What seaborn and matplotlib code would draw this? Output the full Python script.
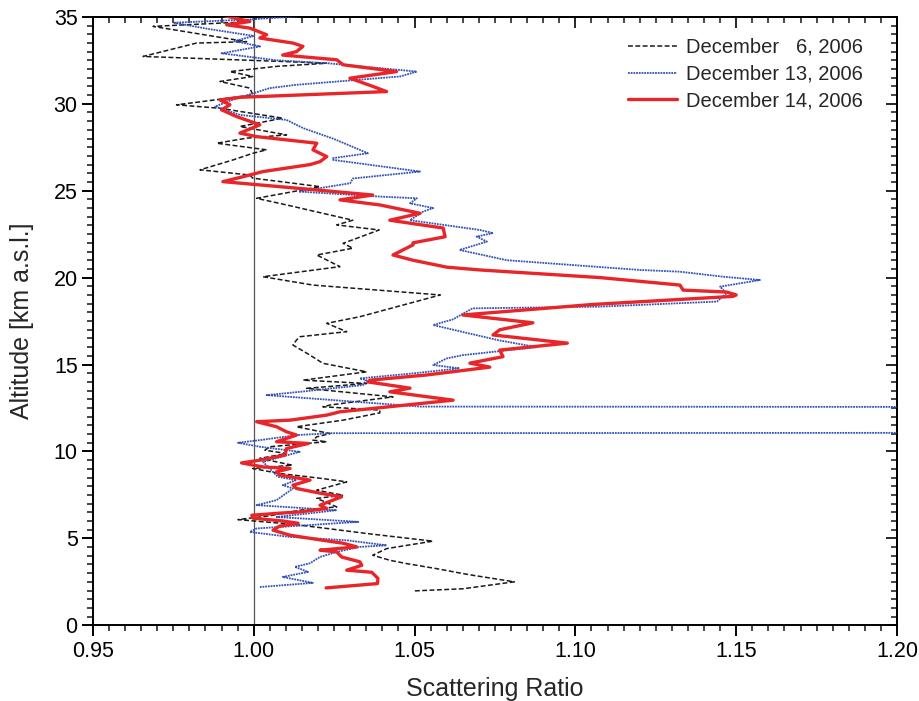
import numpy as np
import pandas as pd
import matplotlib
matplotlib.use("Agg")
import matplotlib.pyplot as plt
from matplotlib.ticker import MultipleLocator
import seaborn as sns

# Lidar scattering-ratio profiles (altitude in km a.s.l., ratio dimensionless)
dec06_alt = [1.98, 2.10, 2.50, 2.88, 3.01, 3.26, 3.55, 3.74, 4.03, 4.41, 4.84, 4.99, 5.28, 5.57,
             5.81, 6.08, 6.30, 6.62, 6.81, 7.30, 7.48, 7.77, 8.25, 8.44, 8.73, 9.02, 9.21, 9.60,
             9.88, 10.07, 10.27, 10.56, 10.65, 10.84, 11.03, 11.42, 11.80, 12.22, 12.38, 12.57,
             12.67, 13.14, 13.63, 13.91, 14.10, 14.58, 15.07, 15.54, 16.12, 16.41, 16.60, 16.89,
             17.37, 17.75, 18.42, 19.00, 19.57, 20.05, 20.63, 21.30, 21.69, 21.97, 22.74, 23.03,
             23.30, 24.18, 24.56, 25.23, 25.43, 25.72, 25.90, 26.20, 26.77, 27.15, 27.35, 27.73,
             28.02, 28.21, 28.69, 29.17, 29.74, 29.94, 30.13, 30.51, 30.90, 31.28, 31.57, 31.85,
             32.15, 32.33, 32.43, 32.72, 33.49, 33.57, 34.45, 34.70, 35.10]
dec06_sr = [1.0501, 1.0650, 1.0810, 1.0680, 1.0640, 1.0568, 1.0475, 1.0423, 1.0370, 1.0413,
            1.0557, 1.0486, 1.0351, 1.0227, 1.0122, 0.9951, 1.0050, 1.0143, 1.0258, 1.0196,
            1.0278, 1.0196, 1.0289, 1.0215, 1.0081, 0.9997, 1.0120, 1.0019, 1.0102, 1.0035,
            1.0050, 1.0227, 1.0184, 1.0196, 1.0237, 1.0133, 1.0278, 1.0392, 1.0392, 1.0215,
            1.0237, 1.0433, 1.0164, 1.0351, 1.0153, 1.0351, 1.0215, 1.0175, 1.0122, 1.0133,
            1.0144, 1.0289, 1.0227, 1.0330, 1.0464, 1.0580, 1.0184, 1.0029, 1.0268, 1.0196,
            1.0308, 1.0278, 1.0390, 1.0258, 1.0308, 1.0102, 1.0009, 1.0206, 1.0122, 0.9997,
            0.9988, 0.9833, 0.9936, 0.9997, 1.0040, 0.9885, 0.9978, 1.0102, 0.9957, 1.0090,
            0.9895, 0.9760, 0.9842, 0.9997, 0.9988, 0.9895, 0.9997, 0.9926, 1.0071, 1.0227,
            1.0092, 0.9656, 0.9822, 0.9978, 0.9687, 0.9966, 1.0050]

dec13_alt = [2.20, 2.44, 2.78, 3.07, 3.36, 3.57, 3.93, 4.22, 4.51, 4.60, 4.89, 5.08, 5.37, 5.57,
             5.95, 6.23, 6.62, 6.91, 7.20, 7.87, 8.06, 8.35, 8.54, 9.40, 9.98, 10.27, 10.50,
             10.65, 10.94, 11.05, 11.08, 12.55, 12.58, 13.24, 13.43, 13.82, 14.10, 14.20, 14.50,
             14.78, 14.97, 15.35, 15.54, 16.00, 16.40, 17.27, 17.60, 18.23, 18.33, 18.62, 19.10,
             19.48, 19.86, 20.05, 20.34, 20.44, 21.00, 21.59, 22.07, 22.36, 22.56, 22.74, 23.14,
             23.30, 23.80, 24.00, 24.27, 24.56, 24.66, 24.95, 25.43, 25.70, 26.10, 26.77, 26.87,
             27.15, 28.00, 28.60, 29.07, 29.36, 29.84, 30.20, 30.90, 31.09, 31.57, 31.85, 32.33,
             32.50, 32.90, 33.30, 33.60, 33.90, 34.30, 34.66, 34.85, 35.10]
dec13_sr = [1.0019, 1.0184, 1.0090, 1.0169, 1.0128, 1.0175, 1.0206, 1.0258, 1.0330, 1.0413,
            1.0289, 1.0113, 0.9988, 1.0009, 1.0325, 1.0071, 1.0258, 1.0009, 1.0071, 1.0122,
            1.0090, 1.0133, 1.0075, 1.0029, 1.0143, 1.0019, 0.9951, 1.0019, 1.0133, 1.0240,
            1.3000, 1.3000, 1.0517, 1.0040, 1.0144, 1.0340, 1.0350, 1.0330, 1.0500, 1.0640,
            1.0558, 1.0600, 1.0650, 1.0880, 1.0760, 1.0558, 1.0620, 1.0680, 1.1077, 1.1440,
            1.1470, 1.1450, 1.1574, 1.1460, 1.1325, 1.1200, 1.0787, 1.0640, 1.0725, 1.0693,
            1.0744, 1.0703, 1.0548, 1.0486, 1.0527, 1.0558, 1.0486, 1.0507, 1.0393, 1.0140,
            1.0300, 1.0308, 1.0517, 1.0247, 1.0246, 1.0355, 1.0246, 1.0153, 1.0102, 0.9957,
            0.9880, 0.9930, 1.0050, 1.0133, 1.0455, 1.0507, 1.0230, 1.0071, 0.9900, 1.0020,
            0.9940, 1.0000, 0.9860, 0.9750, 0.9990, 1.0200]

dec14_alt = [2.15, 2.40, 2.70, 3.05, 3.17, 3.45, 3.65, 3.93, 4.22, 4.32, 4.51, 4.72, 4.89, 5.18,
             5.47, 5.70, 5.87, 6.00, 6.16, 6.33, 6.45, 6.52, 6.72, 6.91, 7.39, 7.60, 7.87, 8.06,
             8.35, 8.64, 8.83, 9.02, 9.11, 9.34, 9.50, 9.79, 10.17, 10.46, 10.56, 10.94, 11.13,
             11.42, 11.71, 11.80, 12.09, 12.28, 12.95, 13.43, 13.64, 14.00, 14.10, 14.40, 14.85,
             15.08, 15.45, 15.83, 16.23, 16.70, 17.00, 17.40, 17.85, 18.45, 18.92, 19.00, 19.17,
             19.28, 19.57, 20.00, 20.44, 20.60, 21.00, 21.30, 21.88, 22.00, 22.35, 22.85, 23.30,
             23.70, 24.18, 24.47, 24.75, 25.23, 25.52, 25.80, 26.10, 26.50, 26.67, 26.96, 27.35,
             27.73, 28.11, 28.31, 28.79, 29.26, 29.65, 29.94, 30.22, 30.37, 30.70, 31.00, 31.47,
             31.85, 32.24, 32.53, 32.80, 33.00, 33.30, 33.49, 33.78, 33.97, 34.35, 34.54, 34.73,
             35.10]
dec14_sr = [1.0225, 1.0385, 1.0386, 1.0367, 1.0289, 1.0336, 1.0330, 1.0273, 1.0258, 1.0206,
            1.0320, 1.0278, 1.0215, 1.0113, 1.0060, 1.0080, 1.0138, 1.0090, 0.9998, 0.9994,
            1.0081, 1.0143, 1.0227, 1.0206, 1.0273, 1.0206, 1.0133, 1.0122, 1.0175, 1.0081,
            1.0071, 1.0113, 1.0029, 0.9962, 1.0020, 1.0097, 1.0102, 1.0170, 1.0071, 1.0133,
            1.0102, 1.0071, 1.0009, 1.0113, 1.0227, 1.0268, 1.0620, 1.0423, 1.0486, 1.0355,
            1.0361, 1.0538, 1.0734, 1.0672, 1.0775, 1.0765, 1.0975, 1.0744, 1.0765, 1.0868,
            1.0650, 1.1050, 1.1490, 1.1500, 1.1470, 1.1335, 1.1325, 1.1077, 1.0703, 1.0600,
            1.0495, 1.0433, 1.0495, 1.0495, 1.0595, 1.0589, 1.0423, 1.0517, 1.0392, 1.0268,
            1.0370, 1.0081, 0.9904, 0.9966, 1.0029, 1.0175, 1.0206, 1.0227, 1.0184, 1.0196,
            1.0009, 0.9957, 1.0019, 0.9947, 0.9900, 0.9926, 0.9895, 0.9957, 1.0413, 1.0370,
            1.0299, 1.0444, 1.0278, 1.0258, 1.0090, 1.0133, 1.0153, 1.0122, 1.0019, 1.0040,
            0.9988, 0.9916, 0.9988, 0.9900]

labels = ["December   6, 2006", "December 13, 2006", "December 14, 2006"]

sns.set_style("ticks")
plt.rcParams["font.family"] = ["Liberation Sans", "DejaVu Sans"]
plt.rcParams["axes.linewidth"] = 1.4

fig = plt.figure(figsize=(9.2, 7.01), dpi=100)
ax = fig.add_axes([0.101, 0.108, 0.874, 0.868])

ax.axvline(1.0, color="#555555", lw=0.9, zorder=1)

series = [
    (dec06_alt, dec06_sr, "#1a1a1a", (0, (3.2, 1.6)), 1.1),
    (dec13_alt, dec13_sr, "#3352b5", (0, (1.0, 0.5)), 1.3),
    (dec14_alt, dec14_sr, "#e8262a", "-", 2.4),
]
for (alt, sr, col, ls, lw), lab in zip(series, labels):
    df = pd.DataFrame({"alt": alt, "sr": sr})
    sns.lineplot(data=df, x="sr", y="alt", orient="y", sort=False, estimator=None,
                 color=col, linestyle=ls, linewidth=lw, label=lab, ax=ax, zorder=3)

ax.set_xlim(0.95, 1.20)
ax.set_ylim(0, 35)
ax.xaxis.set_minor_locator(MultipleLocator(0.005))
ax.yaxis.set_major_locator(MultipleLocator(5))
ax.yaxis.set_minor_locator(MultipleLocator(0.5))
ax.set_xticks(np.arange(0.95, 1.2001, 0.05))
ax.set_xticklabels([f"{v:.2f}" for v in np.arange(0.95, 1.2001, 0.05)])

ax.tick_params(which="major", direction="out", length=8, width=1.4, labelsize=15.5,
               colors="black", pad=3)
ax.tick_params(which="minor", direction="out", length=4.5, width=1.2)
ax.tick_params(top=False, right=False, which="both")

for sp in ax.spines.values():
    sp.set_visible(True)
    sp.set_color("black")

# inward ticks on the top and right frame
top = ax.secondary_xaxis("top")
top.xaxis.set_major_locator(MultipleLocator(0.05))
top.xaxis.set_minor_locator(MultipleLocator(0.005))
top.tick_params(which="major", direction="in", length=8, width=1.4, labeltop=False)
top.tick_params(which="minor", direction="in", length=4.5, width=1.2)
right = ax.secondary_yaxis("right")
right.yaxis.set_major_locator(MultipleLocator(5))
right.yaxis.set_minor_locator(MultipleLocator(0.5))
right.tick_params(which="major", direction="in", length=8, width=1.4, labelright=False)
right.tick_params(which="minor", direction="in", length=4.5, width=1.2)

ax.set_xlabel("Scattering Ratio", fontsize=18, va="center")
ax.set_ylabel("Altitude [km a.s.l.]", fontsize=18, va="center")
ax.xaxis.set_label_coords(0.5, -0.104)
ax.yaxis.set_label_coords(-0.088, 0.5)

leg = ax.legend(loc="upper right", bbox_to_anchor=(0.98, 0.995), frameon=False,
                fontsize=14.5, handlelength=2.4, labelspacing=0.38, handletextpad=0.45)

fig.savefig("out.png", dpi=100)
